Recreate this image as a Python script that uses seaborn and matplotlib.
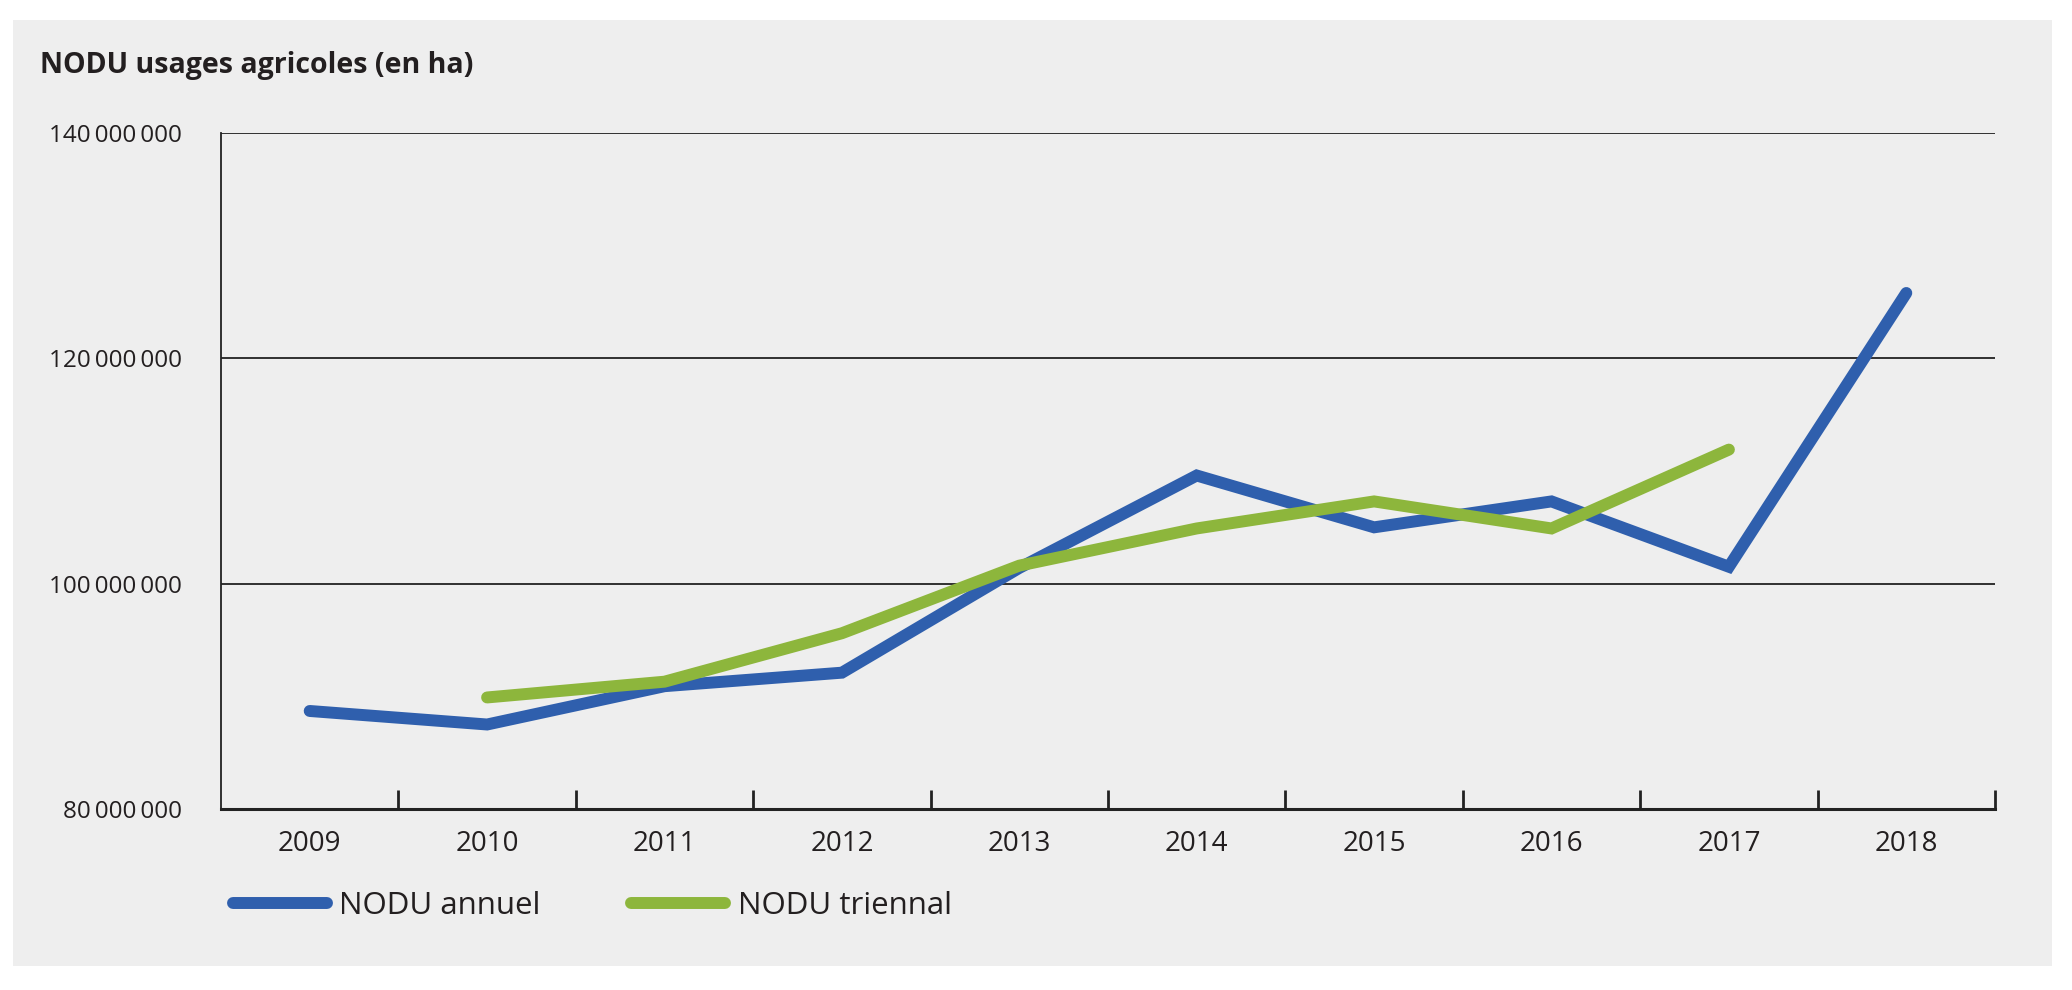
import matplotlib
matplotlib.use('Agg')
import matplotlib.pyplot as plt
from matplotlib.patches import Rectangle
from matplotlib.ticker import FixedLocator, FuncFormatter
import seaborn as sns
import pandas as pd

years = [2009, 2010, 2011, 2012, 2013, 2014, 2015, 2016, 2017, 2018]
annual = [88.7, 87.5, 90.9, 92.1, 101.4, 109.6, 105.0, 107.3, 101.5, 125.8]  # millions ha
triennial_years = [2010, 2011, 2012, 2013, 2014, 2015, 2016, 2017]
triennial = [89.9, 91.3, 95.6, 101.6, 104.9, 107.3, 104.9, 111.9]
y_ticks = [80, 100, 120, 140]

blue = '#2f5fad'
green = '#8db63c'
bg = '#eeeeee'

df = pd.concat([
    pd.DataFrame({'annee': years, 'valeur': [v * 1e6 for v in annual], 'serie': 'NODU annuel'}),
    pd.DataFrame({'annee': triennial_years, 'valeur': [v * 1e6 for v in triennial], 'serie': 'NODU triennal'}),
])

sns.set_style('white')
plt.rcParams['font.family'] = ['Open Sans', 'DejaVu Sans']

fig = plt.figure(figsize=(20.72, 9.9), dpi=100)
fig.patch.set_facecolor('white')
fig.patches.append(Rectangle((13 / 2072, 1 - 966 / 990), (2052 - 13) / 2072, (966 - 20) / 990,
                             transform=fig.transFigure, facecolor=bg, edgecolor='none', zorder=-10))
ax = fig.add_axes([221 / 2072, 1 - 809 / 990, (1995 - 221) / 2072, (809 - 133) / 990])
ax.set_facecolor(bg)

sns.lineplot(data=df, x='annee', y='valeur', hue='serie', palette=[blue, green],
             linewidth=8.6, solid_capstyle='round', solid_joinstyle='miter', ax=ax, legend=False)

ax.set_xlim(2008.5, 2018.5)
ax.set_ylim(80e6, 140e6)
ax.set_xlabel('')
ax.set_ylabel('')

# grid lines at 100, 120, 140 M
for t in y_ticks[1:]:
    ax.axhline(t * 1e6, color='#222222', lw=1.3, zorder=1)

ax.yaxis.set_major_locator(FixedLocator([t * 1e6 for t in y_ticks]))
ax.yaxis.set_major_formatter(FuncFormatter(lambda v, p: f'{int(round(v)):,}'.replace(',', '\u2009')))
ax.tick_params(axis='y', length=0, pad=28, labelsize=17.5, labelcolor='#231f20')

ax.xaxis.set_major_locator(FixedLocator(years))
ax.xaxis.set_minor_locator(FixedLocator([y + 0.5 for y in years]))
ax.tick_params(axis='x', which='major', length=0, pad=15, labelsize=20, labelcolor='#231f20')
ax.tick_params(axis='x', which='minor', bottom=True, direction='in', length=14, width=2,
               color='#222222')

for s in ['top', 'right']:
    ax.spines[s].set_visible(False)
ax.spines['left'].set_color('#222222')
ax.spines['left'].set_linewidth(1.3)
ax.spines['bottom'].set_color('#222222')
ax.spines['bottom'].set_linewidth(2.2)

fig.text(40 / 2072, 1 - 66 / 990, 'NODU usages agricoles (en ha)', fontsize=20.5,
         fontweight='bold', color='#231f20', va='center', ha='left')

handles = [plt.Line2D([], [], color=blue, lw=8.6, solid_capstyle='round'),
           plt.Line2D([], [], color=green, lw=8.6, solid_capstyle='round')]
fig.legend(handles, ['NODU annuel', 'NODU triennal'], loc='center left',
           bbox_to_anchor=(205 / 2072, 1 - 906 / 990), ncol=2, frameon=False,
           fontsize=22.5, handlelength=3.0, handletextpad=0.4, columnspacing=2.9,
           labelcolor='#231f20')

fig.savefig('out.png', dpi=100, facecolor='white')
